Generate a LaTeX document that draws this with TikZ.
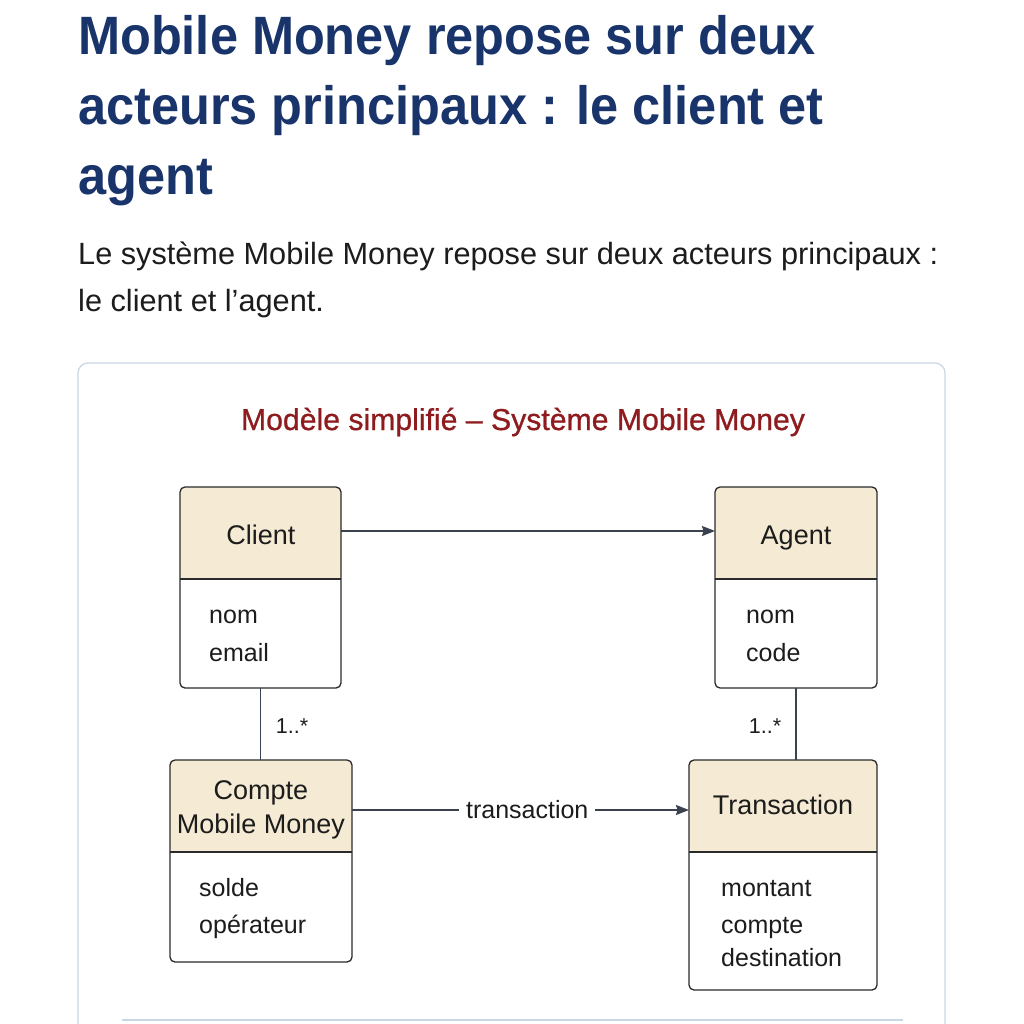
\documentclass[tikz,border=0pt]{standalone}
\usepackage{fontspec}
\setmainfont{Liberation Sans}
\newfontfamily\titlefont[FakeStretch=0.935]{Liberation Sans}
\newfontfamily\medfont[FakeBold=0.8]{Liberation Sans}
\usetikzlibrary{arrows.meta}
\definecolor{navy}{HTML}{18346A}
\definecolor{darkred}{HTML}{8E1B1E}
\definecolor{headfill}{HTML}{F5EAD3}
\definecolor{boxline}{HTML}{2A2A2A}
\definecolor{connc}{HTML}{3A4250}
\definecolor{framec}{HTML}{CAD6E6}
\definecolor{txt}{HTML}{1C1C1C}
\tikzset{
  umlbox/.style={draw=boxline, line width=1.3pt, rounded corners=5pt, inner sep=0pt, outer sep=0pt,
    path picture={
      \fill[headfill] (path picture bounding box.north west) rectangle ([yshift=-92pt]path picture bounding box.north east);
      \draw[boxline, line width=1.3pt] ([yshift=-92pt]path picture bounding box.north west) -- ([yshift=-92pt]path picture bounding box.north east);
    }},
  headtxt/.style={font=\fontsize{27}{34}\selectfont, text=txt, inner sep=0pt, anchor=base, align=center},
  attrtxt/.style={font=\fontsize{25}{30}\selectfont, text=txt, inner sep=0pt, anchor=base west},
  conn/.style={draw=connc, line width=1.3pt},
  arr/.style={-{Stealth[length=13pt,width=10pt,inset=1.5pt]}},
  multtxt/.style={font=\fontsize{21.5}{24}\selectfont, text=txt, inner sep=0pt, anchor=base},
  titletxt/.style={font=\titlefont\bfseries\fontsize{54}{60}\selectfont, text=navy, inner sep=0pt, anchor=base west},
  subtxt/.style={font=\fontsize{30.7}{36}\selectfont, text=txt, inner sep=0pt, anchor=base west},
}
\begin{document}
\begin{tikzpicture}[x=1pt,y=-1pt]
\useasboundingbox (0,0) rectangle (1024,1024);
\clip (0,0) rectangle (1024,1024);
\fill[white] (0,0) rectangle (1024,1024);
% heading
\node[titletxt] (t1) at (78,55) {Mobile Money repose sur deux};
\node[titletxt] (t2) at (78,125) {acteurs principaux : le client et};
\node[titletxt] (t3) at (78,195) {agent};
\node[subtxt] (s1) at (78,264) {Le système Mobile Money repose sur deux acteurs principaux :};
\node[subtxt] (s2) at (78,311) {le client et l’agent.};
% frame
\draw[framec, line width=1.2pt, rounded corners=10pt] (78,363) rectangle (945,1050);
\draw[framec, line width=2.5pt] (122,1020) -- (903,1020);
\node[font=\medfont\fontsize{30.2}{34}\selectfont, text=darkred, inner sep=0pt, anchor=base] (dt) at (523,430) {Modèle simplifié – Système Mobile Money};
% boxes
\node[umlbox, minimum width=161, minimum height=201] (client) at (260.5,587.5) {};
\node[umlbox, minimum width=162, minimum height=201] (agent) at (796,587.5) {};
\node[umlbox, minimum width=182, minimum height=202] (compte) at (261,861) {};
\node[umlbox, minimum width=188, minimum height=230] (trans) at (783,875) {};
% headers
\node[headtxt] (clientH) at (261,544) {Client};
\node[headtxt] (agentH) at (796,544) {Agent};
\node[headtxt] (compteH) at (261,799) {Compte};
\node[headtxt] (compteH2) at (261,833) {Mobile Money};
\node[headtxt] (transH) at (783,814) {Transaction};
% attributes
\node[attrtxt] (c1) at (209,623) {nom};
\node[attrtxt] (c2) at (209,661) {email};
\node[attrtxt] (a1) at (746,623) {nom};
\node[attrtxt] (a2) at (746,661) {code};
\node[attrtxt] (m1) at (199,896) {solde};
\node[attrtxt] (m2) at (199,933) {opérateur};
\node[attrtxt] (r1) at (721,896) {montant};
\node[attrtxt] (r2) at (721,933) {compte};
\node[attrtxt] (r3) at (721,966) {destination};
% connectors
\draw[conn, arr] ([yshift=-44pt]client.north east) -- ([yshift=-44pt]agent.north west);
\draw[conn] (client.south) -- (client.south |- compte.north);
\draw[conn] (agent.south) -- (agent.south |- trans.north);
\draw[conn, arr] ([yshift=-50pt]compte.north east) -- node[fill=white, inner xsep=7pt, inner ysep=2pt, font=\fontsize{25}{30}\selectfont, text=txt, pos=0.52] (lbl) {transaction} ([yshift=-50pt]trans.north west);
\node[multtxt] (m1l) at (292,733) {1..*};
\node[multtxt] (m2l) at (765,733) {1..*};
\end{tikzpicture}
\end{document}
